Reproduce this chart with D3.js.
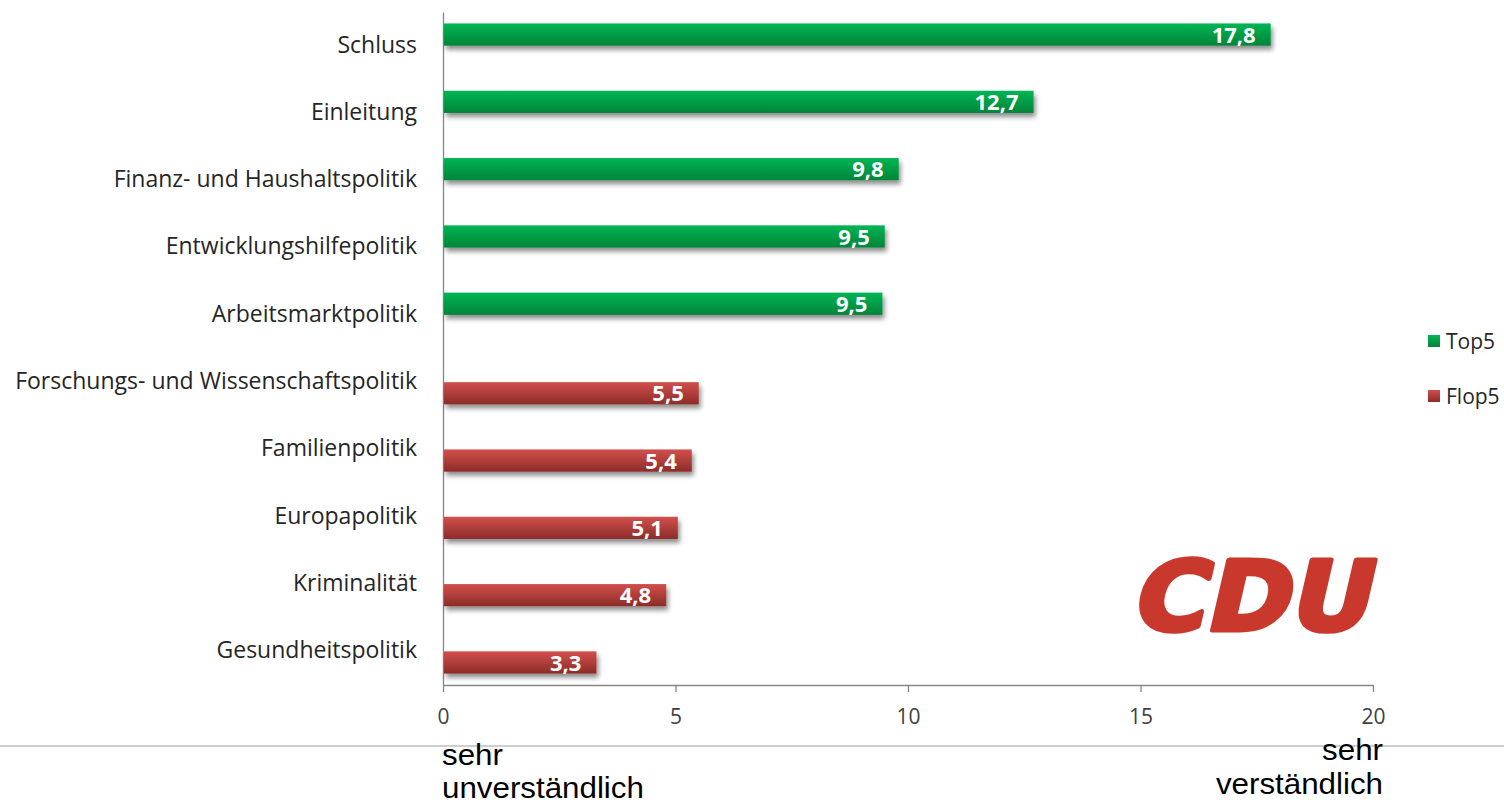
<!DOCTYPE html>
<html><head><meta charset="utf-8">
<script src="https://cdn.jsdelivr.net/npm/d3@7"></script>
<style>body{margin:0;background:#fff;overflow:hidden}</style>
</head><body>
<svg id="c" width="1504" height="804"></svg>
<script>
const categories = ["Schluss","Einleitung","Finanz- und Haushaltspolitik","Entwicklungshilfepolitik","Arbeitsmarktpolitik","Forschungs- und Wissenschaftspolitik","Familienpolitik","Europapolitik","Kriminalität","Gesundheitspolitik"];
const top5 = [17.8, 12.7, 9.8, 9.5, 9.45, null, null, null, null, null];
const flop5 = [null, null, null, null, null, 5.5, 5.35, 5.05, 4.8, 3.3];
const valueLabels = ["17,8","12,7","9,8","9,5","9,5","5,5","5,4","5,1","4,8","3,3"];
const seriesNames = ["Top5","Flop5"];
const ticks = [0,5,10,15,20];

const FONT = "'Open Sans', 'Noto Sans', sans-serif";
const svg = d3.select("#c");
const defs = svg.append("defs");
function grad(id, c1, c2){
  const g = defs.append("linearGradient").attr("id",id).attr("x1",0).attr("y1",0).attr("x2",0).attr("y2",1);
  g.append("stop").attr("offset","0%").attr("stop-color",c1);
  g.append("stop").attr("offset","100%").attr("stop-color",c2);
}
grad("gG","#06b553","#00843a");
grad("gR","#d2504c","#8c2b29");
const f = defs.append("filter").attr("id","sh").attr("x","-5%").attr("y","-50%").attr("width","110%").attr("height","250%");
f.append("feGaussianBlur").attr("in","SourceAlpha").attr("stdDeviation",2.5).attr("result","b");
f.append("feOffset").attr("in","b").attr("dx",2).attr("dy",4).attr("result","o");
f.append("feComponentTransfer").attr("in","o").attr("result","o2").append("feFuncA").attr("type","linear").attr("slope",0.45);
const m = f.append("feMerge"); m.append("feMergeNode").attr("in","o2"); m.append("feMergeNode").attr("in","SourceGraphic");

const x = d3.scaleLinear().domain([0,20]).range([443,1373]);
const y = d3.scaleBand().domain(categories).range([12,685]);
const bh = y.bandwidth()*0.33;

// x axis
const xa = svg.append("g").attr("transform","translate(0,685)")
  .call(d3.axisBottom(x).tickValues(ticks).tickSize(7).tickSizeOuter(0).tickFormat(d3.format("d")));
xa.select(".domain").attr("stroke","#868686").attr("stroke-width",1.3);
xa.selectAll(".tick line").attr("stroke","#868686").attr("stroke-width",1.3);
xa.selectAll(".tick text").attr("font-family",FONT).attr("font-size",21).attr("fill","#404040").attr("dy","1.4em");

// y axis
const ya = svg.append("g").attr("transform","translate(443,0)")
  .call(d3.axisLeft(y).tickSize(0).tickSizeOuter(0).tickPadding(26));
ya.select(".domain").attr("stroke","#868686").attr("stroke-width",1.3);
ya.selectAll(".tick text").attr("font-family",FONT).attr("font-size",23).attr("fill","#262626").attr("dy","0.3em");

const colors = {Top5:"url(#gG)", Flop5:"url(#gR)"};
const series = [{name:"Top5", vals:top5},{name:"Flop5", vals:flop5}];
series.forEach((s,si)=>{
  const data = categories.map((c,i)=>({c, v:s.vals[i], l:valueLabels[i]})).filter(d=>d.v!=null);
  const yo = d => si===0 ? y(d.c)+y.bandwidth()/2 - bh : y(d.c)+y.bandwidth()/2;
  svg.append("g").selectAll("rect").data(data).join("rect")
    .attr("x", x(0)+1).attr("y", yo).attr("width", d=>x(d.v)-x(0)-1).attr("height", bh)
    .attr("fill", colors[s.name]).attr("filter","url(#sh)");
  svg.append("g").selectAll("text").data(data).join("text")
    .attr("x", d=>x(d.v)-15).attr("y", d=>yo(d)+bh/2).attr("dy","0.37em")
    .attr("text-anchor","end").attr("font-family",FONT).attr("font-weight","bold")
    .attr("font-size",22).attr("fill","#fff").text(d=>d.l);
});

// legend
const lg = svg.append("g");
seriesNames.forEach((n,i)=>{
  const ly = 341 + i*55;
  lg.append("rect").attr("x",1428).attr("y",ly-6).attr("width",12).attr("height",12).attr("fill",colors[n]);
  lg.append("text").attr("x",1446).attr("y",ly).attr("dy","0.36em").attr("font-family",FONT)
    .attr("font-size",21).attr("fill","#262626").text(n);
});

// separator line and annotations
svg.append("line").attr("x1",0).attr("x2",1504).attr("y1",746).attr("y2",746).attr("stroke","#bfbfbf").attr("stroke-width",1.3);
const an = svg.append("g").attr("font-family","'Liberation Sans', Arial, sans-serif").attr("font-size",29).attr("fill","#000");
function ann(tx, ty, anchor, txt){
  an.append("text").attr("transform",`translate(${tx},${ty}) scale(1.08,1)`).attr("text-anchor",anchor).text(txt);
}
ann(442,765,"start","sehr");
ann(442,798,"start","unverständlich");
ann(1383,760,"end","sehr");
ann(1383,794,"end","verständlich");

// logo
svg.append("text").attr("transform","translate(1130,630) skewX(-13)")
  .attr("font-family","'DejaVu Sans', sans-serif").attr("font-weight","bold")
  .attr("font-size",96).attr("fill","#c9382d").attr("stroke","#c9382d").attr("stroke-width",5).attr("stroke-linejoin","round")
  .attr("textLength",238).attr("lengthAdjust","spacingAndGlyphs").text("CDU");
</script>
</body></html>
